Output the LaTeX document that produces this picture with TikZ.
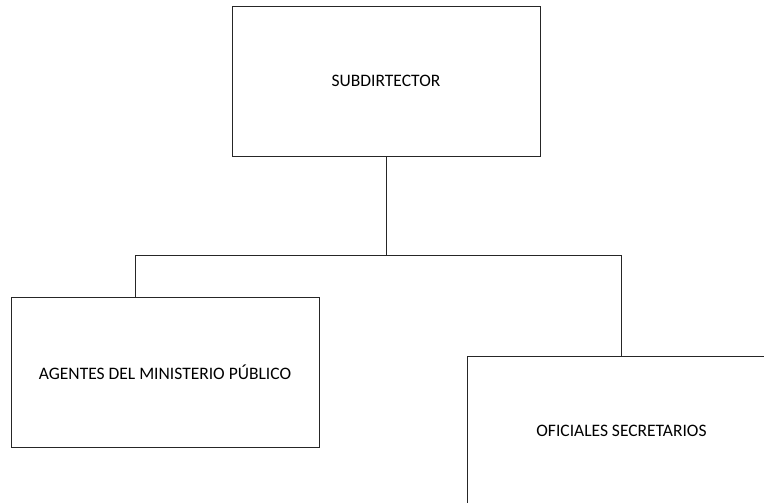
\documentclass[tikz,border=0pt]{standalone}
\usepackage{fontspec}
\setmainfont{Carlito}
\begin{document}
\begin{tikzpicture}[x=1pt,y=-1pt,
  box/.style={draw=black!85,line width=0.9pt,minimum width=308pt,minimum height=150pt,inner sep=0pt,font=\fontsize{17.5}{20}\selectfont},
  conn/.style={draw=black!85,line width=0.9pt}]
\useasboundingbox (0,0) rectangle (764,503);
\node[box] (sub) at (386,81) {SUBDIRTECTOR};
\node[box] (age) at (165,372) {AGENTES DEL MINISTERIO PÚBLICO};
\begin{scope}
\clip (0,0) rectangle (764,503);
\node[box] (ofi) at (621.5,431) {OFICIALES SECRETARIOS};
\end{scope}
\coordinate (mid) at (386,255);
\coordinate (agetop) at (135.5,297);
\draw[conn] (sub.south) -- (mid);
\draw[conn] (agetop) -- (agetop |- mid) -- (ofi.north |- mid) -- (ofi.north);
\end{tikzpicture}
\end{document}
